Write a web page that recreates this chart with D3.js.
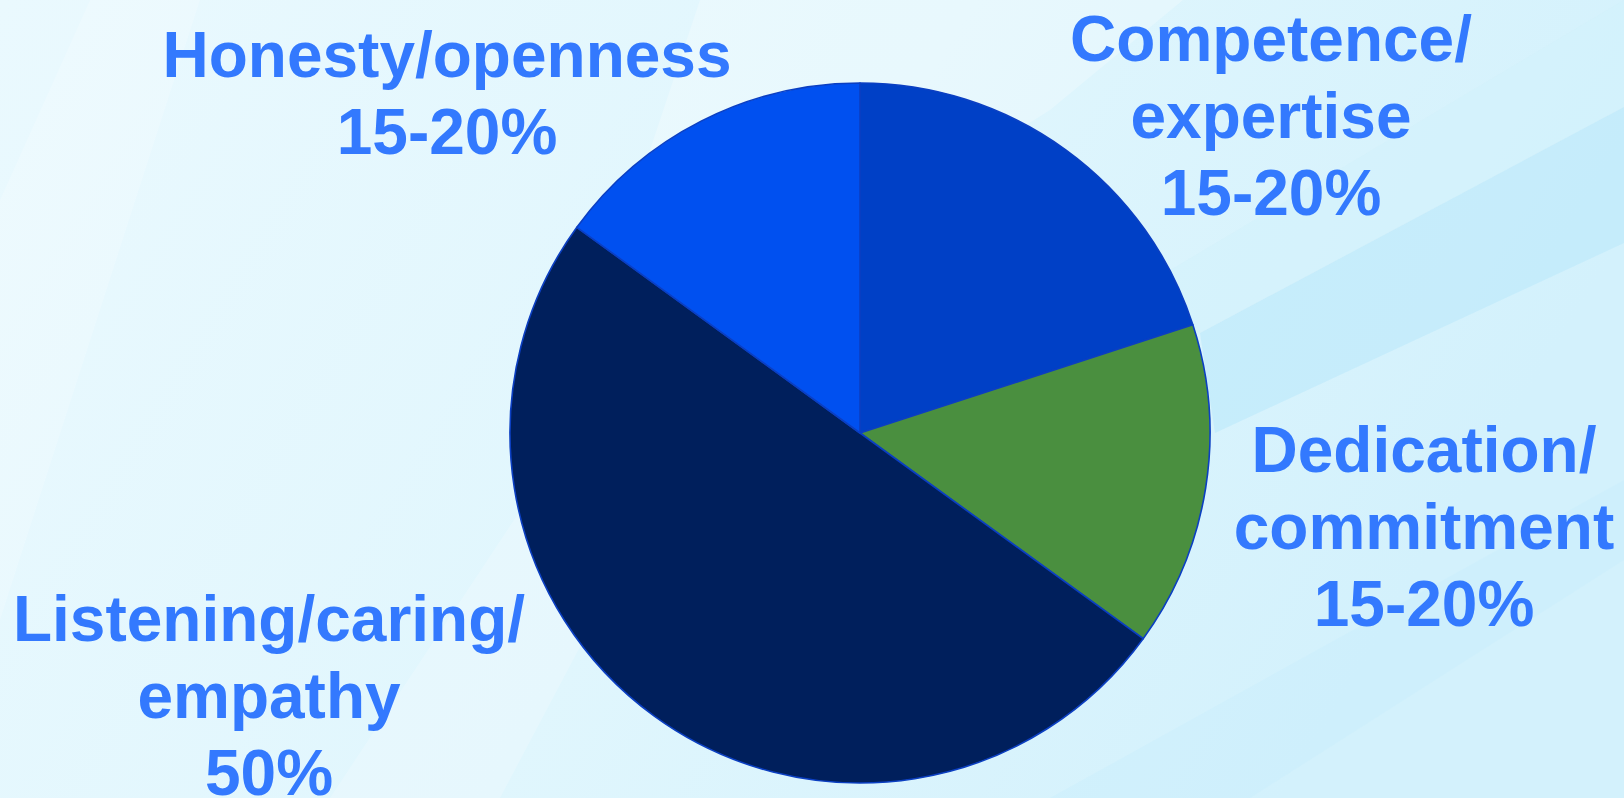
<!DOCTYPE html>
<html>
<head>
<meta charset="utf-8">
<script src="https://cdn.jsdelivr.net/npm/d3@7"></script>
<style>
  html, body { margin: 0; padding: 0; overflow: hidden; }
  svg { display: block; }
</style>
</head>
<body>
<script>
// Chart data.
var categories = ["Competence/expertise", "Dedication/commitment", "Listening/caring/empathy", "Honesty/openness"];
var values = [20, 15, 50, 15];
var labelLines = [
    ["Competence/", "expertise", "15-20%"],
    ["Dedication/", "commitment", "15-20%"],
    ["Listening/caring/", "empathy", "50%"],
    ["Honesty/openness", "15-20%"]
];
var sliceColors = ["#0040c6", "#4a8f3f", "#001f5c", "#0050f0"];

// Page size and pie geometry.
var width = 1624;
var height = 798;
var cx = 860, cy = 433, radius = 350;

// Where each label block sits (center x, first baseline y).
var labelAnchors = [
    [1271, 61],
    [1424, 472],
    [269, 641],
    [447, 77]
];

var svg = d3.select("body").append("svg")
            .attr("width", width)
            .attr("height", height);

// Background: pale cyan gradient with a few soft diagonal streaks.
var defs = svg.append("defs");
var grad = defs.append("linearGradient")
               .attr("id", "bg")
               .attr("x1", "0").attr("y1", "0")
               .attr("x2", "1").attr("y2", "0.3");
grad.append("stop").attr("offset", "0%").attr("stop-color", "#eaf9fe");
grad.append("stop").attr("offset", "55%").attr("stop-color", "#e0f6fd");
grad.append("stop").attr("offset", "100%").attr("stop-color", "#d3f1fc");

svg.append("rect")
   .attr("width", width)
   .attr("height", height)
   .attr("fill", "url(#bg)");

var streaks = [
    { pts: [[700, 0], [1183, 0], [1050, 110], [560, 420]], fill: "#ffffff", op: 0.25 },
    { pts: [[1200, 333], [1624, 107], [1624, 243], [1215, 433]], fill: "#bfeafb", op: 0.7 },
    { pts: [[1624, 0], [1624, 107], [1200, 333], [1120, 300]], fill: "#d2f1fc", op: 0.5 },
    { pts: [[0, 200], [90, 0], [200, 0], [0, 620]], fill: "#ffffff", op: 0.18 },
    { pts: [[330, 798], [600, 390], [700, 420], [500, 798]], fill: "#ffffff", op: 0.2 },
    { pts: [[1050, 798], [1624, 480], [1624, 560], [1250, 798]], fill: "#c8eefc", op: 0.4 }
];
svg.append("g")
   .attr("class", "streaks")
   .selectAll("polygon")
   .data(streaks)
   .enter()
   .append("polygon")
   .attr("points", function (d) { return d.pts.map(function (p) { return p.join(","); }).join(" "); })
   .attr("fill", function (d) { return d.fill; })
   .attr("opacity", function (d) { return d.op; });

// Pie.
var pieData = d3.pie()
                .sort(null)
                .value(function (d) { return d; })(values);

var arc = d3.arc()
            .innerRadius(0)
            .outerRadius(radius);

var color = d3.scaleOrdinal()
              .domain(categories)
              .range(sliceColors);

var g = svg.append("g")
           .attr("class", "pie")
           .attr("transform", "translate(" + cx + ", " + cy + ")");

g.selectAll("path")
 .data(pieData)
 .enter()
 .append("path")
 .attr("d", arc)
 .attr("fill", function (d, i) { return color(categories[i]); })
 .attr("stroke", "#0b3fc2")
 .attr("stroke-width", 1.6)
 .attr("stroke-linejoin", "round");

// Labels.
var labels = svg.append("g")
                .attr("class", "labels")
                .selectAll("text")
                .data(labelLines)
                .enter()
                .append("text")
                .attr("text-anchor", "middle")
                .attr("font-family", "'Liberation Sans', Arial, sans-serif")
                .attr("font-weight", "bold")
                .attr("font-size", 64)
                .attr("fill", "#3379fe")
                .attr("x", function (d, i) { return labelAnchors[i][0]; })
                .attr("y", function (d, i) { return labelAnchors[i][1]; });

labels.selectAll("tspan")
      .data(function (d, i) { return d.map(function (line) { return { line: line, x: labelAnchors[i][0] }; }); })
      .enter()
      .append("tspan")
      .attr("x", function (d) { return d.x; })
      .attr("dy", function (d, j) { return j === 0 ? 0 : 77; })
      .text(function (d) { return d.line; });
</script>
</body>
</html>
